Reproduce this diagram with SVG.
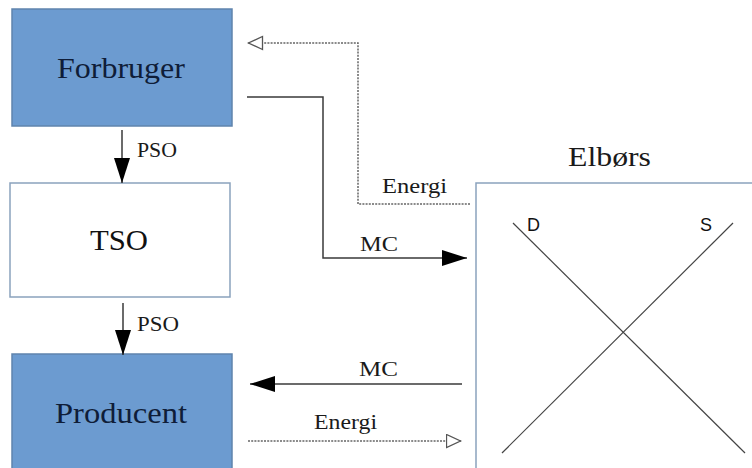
<svg xmlns="http://www.w3.org/2000/svg" width="752" height="468" viewBox="0 0 752 468">
<defs>
<style>
.blue{fill:#6c9bd0;stroke:#5f84ad;stroke-width:1.5}
.white{fill:#ffffff;stroke:#8aa2bd;stroke-width:1.5}
.serifText{font-family:'Liberation Serif','Tinos','Times New Roman','DejaVu Serif',serif}
.nodeText{fill:#0f1d38;font-size:29px}
.lbl{fill:#1a1a1a;font-size:21px}
.solid{fill:none;stroke:#3a3a3a;stroke-width:1.5}
.dash{fill:none;stroke:#666;stroke-width:1.5;stroke-dasharray:2,1.2}
.curve{stroke:#444;stroke-width:1.2}
.sans{font-family:'Liberation Sans',Arial,sans-serif;font-size:18px;fill:#111}
</style>
<marker id="filled" markerUnits="userSpaceOnUse" markerWidth="26" markerHeight="18" refX="25" refY="8" orient="auto">
<path d="M0,0 L25,8 L0,16 Z" fill="#000"/>
</marker>
<marker id="open" markerUnits="userSpaceOnUse" markerWidth="18" markerHeight="16" refX="15.5" refY="7.5" orient="auto">
<path d="M1,1 L15,7.5 L1,14 Z" fill="#fff" stroke="#555" stroke-width="1.3"/>
</marker>
</defs>
<rect width="752" height="468" fill="#ffffff"/>

<g id="forbruger">
<rect class="blue" x="12" y="9" width="220" height="117"/>
<text class="serifText nodeText" x="57" y="78" textLength="128" lengthAdjust="spacingAndGlyphs">Forbruger</text>
</g>

<g id="tso">
<rect class="white" x="10" y="183" width="220" height="114"/>
<text class="serifText" x="90" y="250" font-size="29" fill="#111" textLength="58" lengthAdjust="spacingAndGlyphs">TSO</text>
</g>

<g id="producent">
<rect class="blue" x="12" y="354" width="220" height="120"/>
<text class="serifText nodeText" x="55" y="423" textLength="132" lengthAdjust="spacingAndGlyphs">Producent</text>
</g>

<g id="elbors">
<text class="serifText" x="568" y="166" font-size="27" fill="#1a1a1a" textLength="83" lengthAdjust="spacingAndGlyphs">Elbørs</text>
<rect class="white" x="476" y="183" width="290" height="300"/>
<line class="curve" x1="513" y1="223" x2="745" y2="453"/>
<line class="curve" x1="733" y1="223" x2="502" y2="453"/>
<text class="sans" x="527" y="231">D</text>
<text class="sans" x="700" y="231">S</text>
</g>

<g id="connectors">
<line class="solid" x1="122" y1="130" x2="122" y2="183" marker-end="url(#filled)"/>
<text class="serifText lbl" x="137" y="157" font-size="20" textLength="40" lengthAdjust="spacingAndGlyphs">PSO</text>
<line class="solid" x1="123" y1="303" x2="123" y2="355" marker-end="url(#filled)"/>
<text class="serifText lbl" x="137" y="331" font-size="20" textLength="42" lengthAdjust="spacingAndGlyphs">PSO</text>

<path class="solid" d="M247,97 H323 V258 H467" marker-end="url(#filled)"/>
<text class="serifText lbl" x="360" y="251" textLength="38" lengthAdjust="spacingAndGlyphs">MC</text>

<path class="dash" d="M470,204 H358 V43 H248" marker-end="url(#open)"/>
<text class="serifText lbl" x="382" y="193" textLength="65" lengthAdjust="spacingAndGlyphs">Energi</text>

<line class="solid" x1="462" y1="384" x2="250" y2="384" marker-end="url(#filled)"/>
<text class="serifText lbl" x="359" y="376" textLength="39" lengthAdjust="spacingAndGlyphs">MC</text>

<line class="dash" x1="248" y1="441" x2="461" y2="441" marker-end="url(#open)"/>
<text class="serifText lbl" x="314" y="429" textLength="63" lengthAdjust="spacingAndGlyphs">Energi</text>
</g>
</svg>
